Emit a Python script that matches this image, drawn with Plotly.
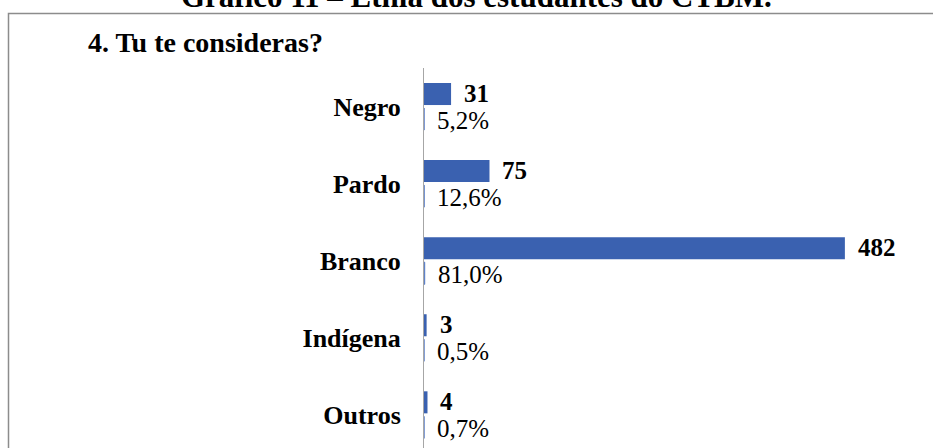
import plotly.graph_objects as go

categories = ["Negro", "Pardo", "Branco", "Indígena", "Outros"]
counts = [31, 75, 482, 3, 4]
percents = [0.052, 0.126, 0.810, 0.005, 0.007]
percent_labels = ["5,2%", "12,6%", "81,0%", "0,5%", "0,7%"]
title_text = "Gráfico 11 – Etnia dos estudantes do CTBM."
subtitle_text = "4. Tu te consideras?"

BAR = "#3a61b0"
SERIF = "Liberation Serif, Times New Roman, serif"

fig = go.Figure()
fig.add_trace(go.Bar(
    y=categories, x=counts, orientation="h",
    marker=dict(color=BAR, line=dict(width=0)),
    hoverinfo="skip", showlegend=False,
))
fig.add_trace(go.Bar(
    y=categories, x=percents, orientation="h",
    marker=dict(color="#5b7fc8", line=dict(color="#5b7fc8", width=1)),
    hoverinfo="skip", showlegend=False,
))

annotations = []
for c, n, p, pl in zip(categories, counts, percents, percent_labels):
    annotations.append(dict(
        x=n, y=c, xref="x", yref="y", text=f"<b>{n}</b>",
        showarrow=False, xanchor="left", yanchor="middle",
        xshift=12, yshift=13, borderpad=0,
        font=dict(family=SERIF, size=25, color="#000000"),
    ))
    annotations.append(dict(
        x=p, y=c, xref="x", yref="y", text=pl,
        showarrow=False, xanchor="left", yanchor="middle",
        xshift=12, yshift=-13.5, borderpad=0,
        font=dict(family=SERIF, size=25, color="#000000"),
    ))

annotations.append(dict(
    x=476, y=-3, xref="paper", yref="paper", text=f"<b>{title_text}</b>",
    showarrow=False, xanchor="center", yanchor="middle",
    font=dict(family=SERIF, size=31, color="#000000"),
))
annotations.append(dict(
    x=86, y=43, xref="paper", yref="paper", text=f"<b>{subtitle_text}</b>",
    showarrow=False, xanchor="left", yanchor="middle",
    font=dict(family=SERIF, size=28, color="#000000"),
))

# convert pixel-based paper positions for title/subtitle
L, T, PW, PH = 424, 68, 489, 379.5
for a in annotations[-2:]:
    a["x"] = (a["x"] - L) / PW
    a["y"] = 1 + (T - a["y"]) / PH

fig.update_layout(
    width=933, height=448,
    margin=dict(l=L, r=933 - L - PW, t=T, b=0, pad=0, autoexpand=False),
    paper_bgcolor="white", plot_bgcolor="white",
    barmode="group", bargap=0.35, bargroupgap=0.12,
    xaxis=dict(range=[0, 560], showgrid=False, zeroline=False,
               showticklabels=False, showline=False, fixedrange=True),
    yaxis=dict(range=[4.43, -0.5], showgrid=False, zeroline=False,
               showline=True, linecolor="#a6a6a6", linewidth=1,
               ticks="", ticklabelstandoff=17, automargin=False,
               tickfont=dict(family=SERIF, size=26, color="#000000",
                             weight="bold"),
               fixedrange=True),
    annotations=annotations,
    shapes=[dict(
        type="rect", xref="paper", yref="paper",
        x0=(8.5 - L) / PW, x1=1.2,
        y0=-0.2, y1=1 + (T - 13.5) / PH,
        line=dict(color="#8c8c8c", width=1.5), fillcolor="rgba(0,0,0,0)",
        layer="below",
    )],
    showlegend=False,
)

fig.write_html(
    "out.html",
    config={"displayModeBar": False},
    post_script="document.body.style.margin='0';document.body.style.overflow='hidden';",
)
